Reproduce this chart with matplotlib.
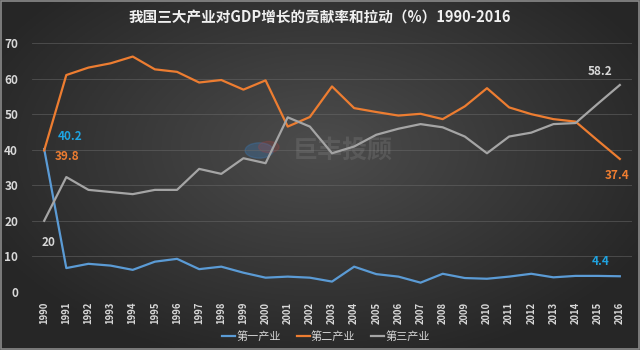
import matplotlib.pyplot as plt
import numpy as np

plt.rcParams['font.family'] = ['Noto Sans CJK SC', 'DejaVu Sans']

# 年份与三大产业贡献率（%）
years = list(range(1990, 2017))
primary = [40.2, 6.7, 7.9, 7.4, 6.2, 8.5, 9.3, 6.4, 7.1, 5.4, 4.0, 4.3, 4.0, 2.9,
           7.1, 5.0, 4.3, 2.6, 5.1, 3.9, 3.7, 4.3, 5.1, 4.1, 4.5, 4.5, 4.4]
secondary = [39.8, 61.0, 63.1, 64.3, 66.2, 62.6, 61.9, 58.9, 59.6, 56.9, 59.5, 46.5, 49.2, 57.8,
             51.7, 50.6, 49.6, 50.1, 48.6, 52.2, 57.3, 51.9, 50.0, 48.6, 47.9, 42.6, 37.4]
tertiary = [20.0, 32.3, 28.7, 28.1, 27.5, 28.7, 28.7, 34.6, 33.2, 37.6, 36.2, 49.1, 46.5, 39.0,
            40.9, 44.2, 45.9, 47.2, 46.3, 43.7, 39.0, 43.7, 44.8, 47.2, 47.5, 52.9, 58.2]
series_names = ['第一产业', '第二产业', '第三产业']
colors = ['#5b9bd5', '#ed7d31', '#a5a5a5']

fig = plt.figure(figsize=(6.4, 3.5), dpi=100)

# 背景：中心偏亮的径向渐变
bg = fig.add_axes([0, 0, 1, 1], zorder=0)
yy, xx = np.mgrid[-1:1:200j, -1:1:300j]
r = np.sqrt((xx / 1.0) ** 2 + ((yy + 0.15) / 1.1) ** 2)
shade = np.clip(0.30 - 0.13 * r, 0.15, 0.30)
bg.imshow(np.dstack([shade] * 3), aspect='auto', extent=[0, 1, 0, 1])
bg.set_xlim(0, 1)
bg.set_ylim(0, 1)
bg.axis('off')
bg.add_patch(plt.Rectangle((0.001, 0.002), 0.997, 0.995, fill=False,
                           edgecolor='#8a8a8a', linewidth=1.2))
# 水印标志
bg.add_patch(plt.Circle((0.405, 0.57), 0.022, color='#3a7fc0', alpha=0.3,
                        transform=bg.transAxes))
bg.add_patch(plt.Circle((0.42, 0.58), 0.016, color='#c04040', alpha=0.2,
                        transform=bg.transAxes))

ax = fig.add_axes([0.05, 0.166, 0.9375, 0.711], zorder=1)
ax.patch.set_alpha(0)

for vals, name, c in zip([primary, secondary, tertiary], series_names, colors):
    ax.plot(years, vals, color=c, linewidth=1.6, label=name)

ax.set_xlim(1989.45, 2016.55)
ax.set_ylim(0, 70)
ax.set_yticks(range(0, 71, 10))
ax.set_xticks(years)
ax.set_xticklabels([str(y) for y in years], rotation=90, fontsize=6.8,
                   color='#d8d8d8', fontweight='bold')
ax.tick_params(axis='y', labelsize=8.5, labelcolor='#d8d8d8', length=0, pad=10)
ax.tick_params(axis='x', length=0, pad=7)
for lab in ax.get_yticklabels():
    lab.set_fontweight('bold')
ax.grid(axis='y', color='#6a6a6a', linewidth=0.6, alpha=0.6)
for s in ax.spines.values():
    s.set_visible(False)

# 数据标签
lab_kw = dict(textcoords='offset points', fontsize=8.5, fontweight='bold',
              ha='center', va='center')
ax.annotate('40.2', (1990, 40.2), xytext=(18.7, 9.0), color='#1fa3e0', **lab_kw)
ax.annotate('39.8', (1990, 39.8), xytext=(16.6, -4.4), color='#ed7d31', **lab_kw)
ax.annotate('20', (1990, 20), xytext=(3.2, -15.8), color='#d8d8d8', **lab_kw)
ax.annotate('58.2', (2016, 58.2), xytext=(-14.4, 9.7), color='#d8d8d8', **lab_kw)
ax.annotate('37.4', (2016, 37.4), xytext=(-2.2, -11.8), color='#ed7d31', **lab_kw)
ax.annotate('4.4', (2016, 4.4), xytext=(-13.7, 10.6), color='#1fa3e0', **lab_kw)

# 水印
fig.text(0.535, 0.57, '巨丰投顾', fontsize=18, color='#9a9a9a', alpha=0.22,
         ha='center', va='center', fontweight='bold')

fig.text(0.5, 0.95, '我国三大产业对GDP增长的贡献率和拉动（%）1990-2016',
         ha='center', va='center', fontsize=10.5, color='#f0f0f0', fontweight='bold')

leg = ax.legend(loc='center', bbox_to_anchor=(0.49, -0.178), ncol=3, frameon=False,
                fontsize=8, handlelength=1.2, handletextpad=0.1, columnspacing=1.4)
for t in leg.get_texts():
    t.set_color('#d8d8d8')

fig.savefig('out.png', dpi=100)
